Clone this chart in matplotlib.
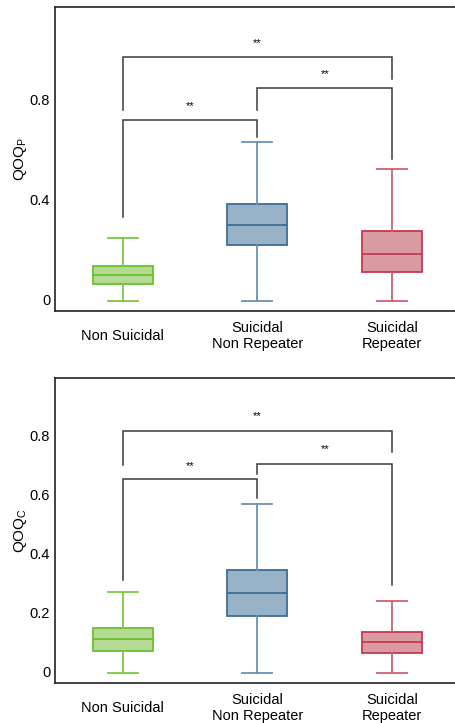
import matplotlib
matplotlib.use("Agg")
import matplotlib.pyplot as plt

plt.rcParams['font.family'] = ['Liberation Sans', 'DejaVu Sans']

groups = ['Non Suicidal', 'Suicidal\nNon Repeater', 'Suicidal\nRepeater']
edge_colors = ['#6cbf2c', '#3d6d95', '#c7394f']
whisker_colors = ['#7cc842', '#6893b6', '#d2606f']
fill_colors = ['#b4da94', '#98b3c7', '#d99aa2']

# QOQ_P box stats: low whisker, q1, median, q3, high whisker
p_low = [-0.004, -0.004, -0.004]
p_q1 = [0.064, 0.220, 0.111]
p_med = [0.101, 0.301, 0.183]
p_q3 = [0.137, 0.384, 0.277]
p_high = [0.249, 0.631, 0.523]

# QOQ_C box stats
c_low = [-0.005, -0.005, -0.005]
c_q1 = [0.070, 0.190, 0.063]
c_med = [0.112, 0.267, 0.100]
c_q3 = [0.150, 0.344, 0.134]
c_high = [0.270, 0.568, 0.240]

# significance brackets: (left group, right group, bar height, left leg end, right leg end, text height)
p_brackets = [(0, 1, 0.720, 0.333, 0.653, 0.776),
              (1, 2, 0.848, 0.760, 0.565, 0.903),
              (0, 2, 0.971, 0.760, 0.885, 1.029)]
c_brackets = [(0, 1, 0.652, 0.311, 0.588, 0.698),
              (1, 2, 0.705, 0.670, 0.294, 0.755),
              (0, 2, 0.816, 0.700, 0.744, 0.866)]


def draw_panel(ax, low, q1, med, q3, high, brackets, yticks, yticklabels, ylim, ylabel):
    stats = []
    for i in range(len(groups)):
        stats.append({'whislo': low[i], 'q1': q1[i], 'med': med[i],
                      'q3': q3[i], 'whishi': high[i], 'fliers': []})
    bp = ax.bxp(stats, positions=range(len(groups)), widths=0.445,
                capwidths=0.223, patch_artist=True, showfliers=False)
    for i in range(len(groups)):
        bp['boxes'][i].set_facecolor(fill_colors[i])
        bp['boxes'][i].set_edgecolor(edge_colors[i])
        bp['boxes'][i].set_linewidth(1.3)
        bp['medians'][i].set_color(edge_colors[i])
        bp['medians'][i].set_linewidth(1.3)
        for w in bp['whiskers'][2 * i:2 * i + 2]:
            w.set_color(whisker_colors[i])
            w.set_linewidth(1.3)
        for c in bp['caps'][2 * i:2 * i + 2]:
            c.set_color(whisker_colors[i])
            c.set_linewidth(1.3)

    for a, b, h, la, lb, th in brackets:
        ax.plot([a, a, b, b], [la, h, h, lb], color='#3a3a3a', lw=1.1,
                solid_joinstyle='miter')
        ax.text((a + b) / 2, th, '**', ha='center', va='center', fontsize=8)

    ax.set_xlim(-0.503, 2.5)
    ax.set_ylim(*ylim)
    ax.set_yticks(yticks)
    ax.set_yticklabels(yticklabels)
    ax.set_xticks(range(len(groups)))
    ax.set_xticklabels(groups, fontsize=10.5, va='center', linespacing=1.2)
    ax.tick_params(axis='y', length=0, pad=3.5, labelsize=10.5)
    ax.tick_params(axis='x', length=0, pad=18)
    ax.set_ylabel(ylabel, fontsize=11, labelpad=0.5)
    for s in ax.spines.values():
        s.set_color('#222222')
        s.set_linewidth(1.2)


fig = plt.figure(figsize=(4.55, 7.23), dpi=100)
ax1 = fig.add_axes([0.1209, 0.5699, 1.0095 - 0.1209, 0.9903 - 0.5699])
ax2 = fig.add_axes([0.1209, 0.0557, 1.0095 - 0.1209, 0.4768 - 0.0557])

draw_panel(ax1, p_low, p_q1, p_med, p_q3, p_high, p_brackets,
           [0, 0.4, 0.8], ['0', '0.4', '0.8'], (-0.044, 1.172), 'QOQ$_\\mathregular{P}$')
draw_panel(ax2, c_low, c_q1, c_med, c_q3, c_high, c_brackets,
           [0, 0.2, 0.4, 0.6, 0.8], ['0', '0.2', '0.4', '0.6', '0.8'], (-0.037, 0.995),
           'QOQ$_\\mathregular{C}$')

fig.savefig('out.png', dpi=100)
